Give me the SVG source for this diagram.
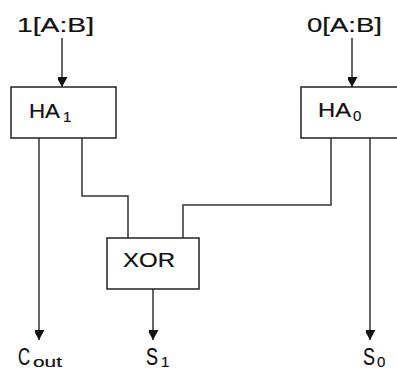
<svg xmlns="http://www.w3.org/2000/svg" width="397" height="370" viewBox="0 0 397 370">
<style>
.box{fill:#fff;stroke:#222;stroke-width:1.5}
.wire{fill:none;stroke:#333;stroke-width:1.5}
.t{font-family:"Liberation Sans",Arial,sans-serif;font-size:21px;fill:#111;stroke:#111;stroke-width:0.2}
.big{font-size:23px}
.sub{font-size:15px}
</style>
<defs>
<marker id="ah" markerUnits="userSpaceOnUse" markerWidth="12" markerHeight="10" refX="10" refY="5.5" orient="auto">
<path d="M0,0 L10,5.5 L0,11 Z" fill="#111"/>
</marker>
</defs>
<rect width="397" height="370" fill="#fff"/>
<g id="connectors">
<line class="wire" x1="62" y1="38" x2="62" y2="87" marker-end="url(#ah)"/>
<line class="wire" x1="352" y1="38" x2="352" y2="87" marker-end="url(#ah)"/>
<line class="wire" x1="39" y1="138" x2="39" y2="340" marker-end="url(#ah)"/>
<polyline class="wire" points="82,138 82,196 128,196 128,238"/>
<polyline class="wire" points="331,138 331,205 183,205 183,238"/>
<line class="wire" x1="153" y1="289" x2="153" y2="340" marker-end="url(#ah)"/>
<line class="wire" x1="370" y1="138" x2="370" y2="340" marker-end="url(#ah)"/>
</g>
<g id="in1"><text class="t" x="17" y="32" textLength="77" lengthAdjust="spacingAndGlyphs">1[A:B]</text></g>
<g id="in0"><text class="t" x="307" y="32" textLength="75" lengthAdjust="spacingAndGlyphs">0[A:B]</text></g>
<g id="ha1">
<rect class="box" x="11" y="87" width="105" height="51"/>
<text class="t" x="29" y="118" textLength="31" lengthAdjust="spacingAndGlyphs">HA</text>
<text class="t sub" x="63" y="122">1</text>
</g>
<g id="ha0">
<rect class="box" x="301" y="87" width="110" height="51"/>
<text class="t" x="318" y="117" textLength="33" lengthAdjust="spacingAndGlyphs">HA</text>
<text class="t sub" x="353" y="121">0</text>
</g>
<g id="xor">
<rect class="box" x="107" y="238" width="92" height="51"/>
<text class="t" x="123" y="267" textLength="52" lengthAdjust="spacingAndGlyphs">XOR</text>
</g>
<g id="cout"><text class="t big" x="18" y="365" textLength="12" lengthAdjust="spacingAndGlyphs">C</text><text class="t sub" x="33" y="367" textLength="29" lengthAdjust="spacingAndGlyphs">out</text></g>
<g id="s1"><text class="t big" x="146" y="365" textLength="12" lengthAdjust="spacingAndGlyphs">S</text><text class="t sub" x="161" y="367">1</text></g>
<g id="s0"><text class="t big" x="363" y="365" textLength="12" lengthAdjust="spacingAndGlyphs">S</text><text class="t sub" x="377" y="367">0</text></g>
</svg>
